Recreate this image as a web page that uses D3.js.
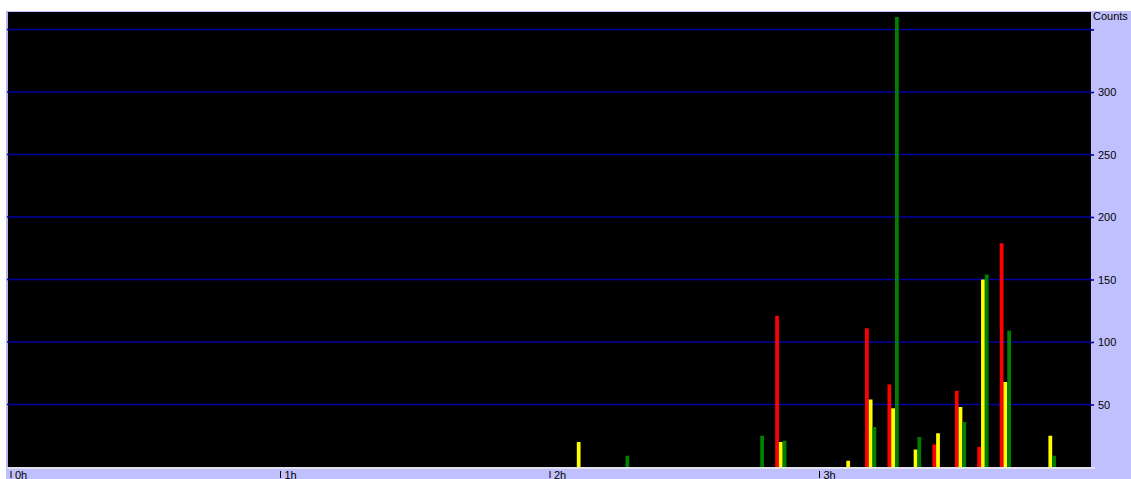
<!DOCTYPE html>
<html>
<head>
<meta charset="utf-8">
<script src="https://cdn.jsdelivr.net/npm/d3@7"></script>
<style>
html,body{margin:0;padding:0;background:#fff;overflow:hidden;}
svg{display:block;}
text{font-family:"Liberation Sans",Arial,sans-serif;font-size:11px;fill:#000;}
</style>
</head>
<body>
<svg id="chart" width="1131" height="479"></svg>
<script>
// 5-minute bins (bin start, minutes from 0h)
const binMinutes   = [125, 135, 165, 170, 185, 190, 195, 200, 205, 210, 215, 220, 230];
const redValues    = [  0,   0,   0, 121,   0, 111,  66,   0,  18,  61,  16, 179,   0];
const yellowValues = [ 20,   0,   0,  20,   5,  54,  47,  14,  27,  48, 150,  68,  25];
const greenValues  = [  0,   9,  25,  21,   0,  32, 360,  24,   0,  36, 154, 109,   9];
const gridTicks    = [50, 100, 150, 200, 250, 300, 350];
const labelTicks   = [50, 100, 150, 200, 250, 300];
const hourTicks    = [0, 60, 120, 180];
const yTitle = "Counts";

const series = [
  {name: "red", values: redValues, color: "#ff0000"},
  {name: "yellow", values: yellowValues, color: "#ffff00"},
  {name: "green", values: greenValues, color: "#008000"}
];

const svg = d3.select("#chart");
const plot = {left: 8, top: 12, right: 1091, bottom: 467};

const x = d3.scaleLinear().domain([0, 240]).range([10, 1088]);
const y = d3.scaleLinear().domain([0, 364]).range([plot.bottom, plot.top]);

// frame
svg.append("rect").attr("x", 6).attr("y", 11).attr("width", 1125).attr("height", 468).attr("fill", "#c0c0ff");
svg.append("rect").attr("x", 6).attr("y", 11).attr("width", 2).attr("height", 457).attr("fill", "#b4b4f4");
svg.append("rect").attr("x", plot.left).attr("y", plot.top)
  .attr("width", plot.right - plot.left).attr("height", plot.bottom - plot.top).attr("fill", "#000");

// gridlines
svg.append("g").selectAll("line").data(gridTicks).join("line")
  .attr("x1", 7).attr("x2", plot.right)
  .attr("y1", d => y(d)).attr("y2", d => y(d))
  .attr("stroke", "#0000a0").attr("stroke-width", 1.6);

// bars
const barW = 3.75;
series.forEach((s, si) => {
  svg.append("g")
    .selectAll("rect").data(binMinutes.map((m, i) => ({m, v: s.values[i]})).filter(d => d.v > 0))
    .join("rect")
    .attr("x", d => x(d.m) + 1.6 + si * barW)
    .attr("y", d => y(d.v))
    .attr("width", barW)
    .attr("height", d => y(0) - y(d.v))
    .attr("fill", s.color);
});

// bottom light line
svg.append("rect").attr("x", 7).attr("y", plot.bottom).attr("width", 1088).attr("height", 2).attr("fill", "#e2e2ea");

// right axis
const yAxis = d3.axisRight(y).tickValues(gridTicks).tickSize(3).tickPadding(4)
  .tickFormat(d => labelTicks.includes(d) ? d : "");
const ya = svg.append("g").attr("transform", `translate(${plot.right},0)`).call(yAxis);
ya.select(".domain").remove();
ya.selectAll(".tick line").attr("stroke", "#0000a0").attr("stroke-width", 1.6);
ya.selectAll(".tick text").attr("font-family", "Liberation Sans, Arial, sans-serif").attr("font-size", "11px").attr("fill", "#000");

svg.append("text").attr("x", 1093).attr("y", 19.5).text(yTitle);

// bottom axis
const xAxis = d3.axisBottom(x).tickValues(hourTicks).tickSize(0).tickFormat(d => (d / 60) + "h");
const xa = svg.append("g").attr("transform", `translate(0,${plot.bottom})`).call(xAxis);
xa.select(".domain").remove();
xa.selectAll(".tick line").attr("y1", 4).attr("y2", 11).attr("x1", 0.5).attr("x2", 0.5).attr("stroke", "#000");
xa.selectAll(".tick text").attr("text-anchor", "start").attr("x", 4.5).attr("dy", null).attr("y", 11.5)
  .attr("font-family", "Liberation Sans, Arial, sans-serif").attr("font-size", "11px").attr("fill", "#000");
</script>
</body>
</html>
